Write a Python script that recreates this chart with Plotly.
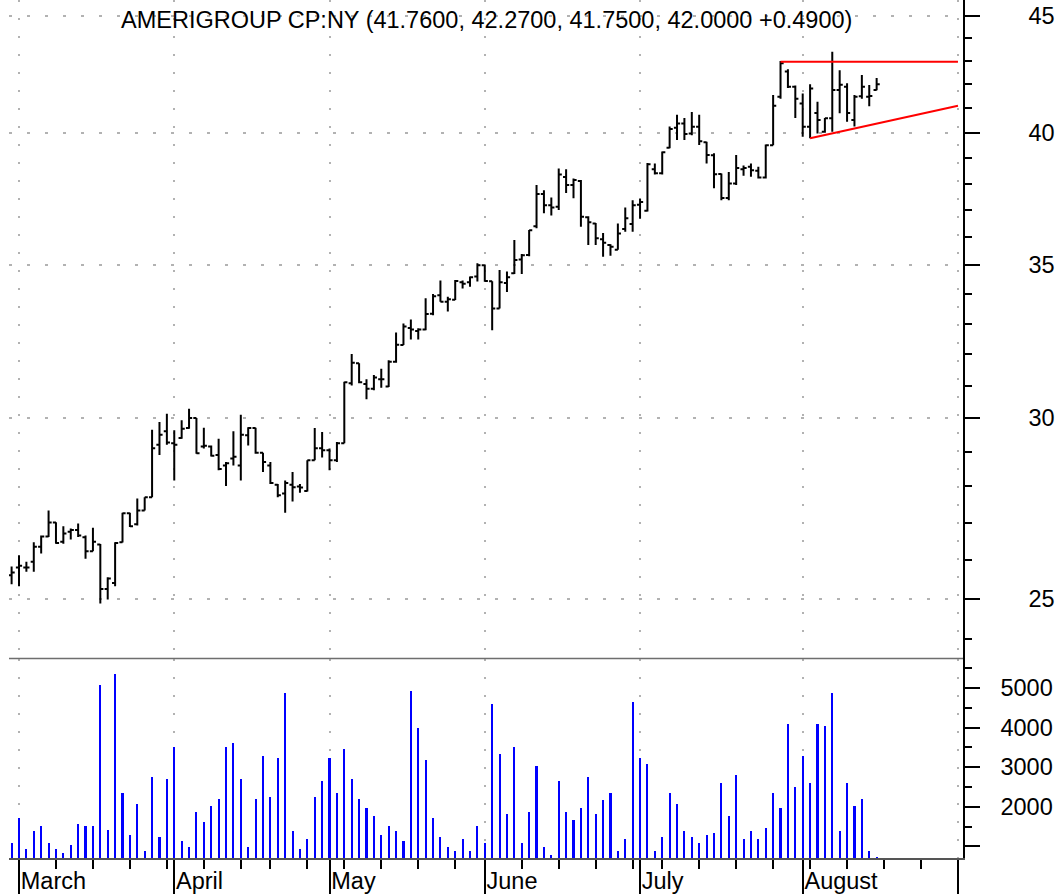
import math
import pandas as pd
import plotly.graph_objects as go

# ---------------- data ----------------
holidays = ["2003-04-18", "2003-05-26", "2003-07-04", "2003-09-01"]
dates = [d.strftime("%Y-%m-%d") for d in pd.bdate_range("2003-02-28", "2003-08-15")
         if d.strftime("%Y-%m-%d") not in holidays]

opens = [25.60, 25.80, 25.80, 25.95, 26.35, 26.62, 27.00, 26.48, 26.75, 26.80,
         26.60, 26.23, 26.41, 25.25, 25.40, 26.47, 27.25, 26.95, 27.33, 27.70,
         29.20, 29.60, 29.25, 29.40, 29.70, 30.00, 29.15, 29.15, 28.90, 28.60,
         28.80, 28.60, 29.48, 29.70, 28.97, 28.60, 28.05, 27.80, 28.05, 28.00,
         27.87, 28.75, 29.10, 29.04, 28.75, 29.25, 31.07, 31.70, 31.05, 30.90,
         31.20, 30.97, 31.75, 32.29, 32.85, 32.75, 32.80, 33.33, 33.95, 33.73,
         33.80, 34.40, 34.40, 34.60, 35.00, 34.44, 33.50, 34.38, 34.72, 35.20,
         35.36, 36.40, 37.60, 37.18, 37.12, 38.25, 37.95, 38.10, 36.73, 36.50,
         35.93, 35.72, 35.55, 36.30, 36.48, 37.20, 36.97, 38.55, 38.40, 39.40,
         40.20, 40.38, 39.97, 40.24, 39.62, 39.10, 38.37, 37.45, 38.00, 38.55,
         38.65, 38.50, 38.24, 39.50, 41.48, 42.55, 41.90, 41.20, 40.24, 40.80,
         40.04, 40.59, 41.76, 41.90, 40.52, 41.50, 41.48, 41.76]
highs = [25.83, 26.12, 25.95, 26.47, 26.65, 27.33, 27.01, 26.90, 26.84, 26.97,
         26.65, 26.86, 26.42, 25.55, 26.47, 27.27, 27.27, 27.66, 27.70, 29.65,
         29.88, 30.13, 29.63, 29.93, 30.28, 30.00, 29.71, 29.18, 29.38, 28.70,
         29.60, 30.10, 29.72, 29.71, 28.97, 28.70, 28.07, 28.17, 28.41, 28.07,
         28.75, 29.70, 29.58, 29.09, 29.28, 31.12, 32.00, 31.70, 31.20, 31.33,
         31.53, 31.80, 32.70, 33.00, 33.13, 32.84, 33.85, 34.00, 34.46, 33.90,
         34.48, 34.46, 34.60, 35.07, 35.02, 34.44, 34.83, 34.78, 35.90, 35.40,
         36.26, 37.95, 37.75, 37.47, 38.58, 38.55, 38.20, 38.14, 36.77, 36.52,
         36.15, 35.75, 36.50, 37.10, 37.37, 37.42, 38.80, 38.78, 39.25, 40.25,
         40.73, 40.60, 40.85, 40.73, 39.64, 39.18, 38.39, 38.45, 39.11, 38.70,
         38.78, 38.65, 39.53, 41.55, 43.00, 42.65, 41.95, 41.62, 42.00, 41.27,
         40.60, 43.40, 42.60, 42.05, 41.55, 42.40, 41.97, 42.27]
lows = [25.37, 25.32, 25.69, 25.69, 26.17, 26.61, 26.43, 26.43, 26.54, 26.61,
        26.03, 26.23, 24.88, 24.98, 25.32, 26.46, 26.88, 26.92, 27.33, 27.70,
        28.90, 29.20, 28.17, 29.38, 29.68, 28.94, 29.09, 28.86, 28.46, 28.01,
        28.60, 28.17, 29.18, 28.94, 28.41, 28.07, 27.70, 27.27, 27.58, 27.82,
        27.86, 28.75, 28.83, 28.46, 28.70, 29.25, 31.00, 31.07, 30.57, 30.85,
        30.93, 30.95, 31.72, 32.29, 32.47, 32.47, 32.78, 33.28, 33.73, 33.40,
        33.79, 34.19, 34.25, 34.43, 34.42, 32.78, 33.50, 34.07, 34.69, 34.69,
        35.32, 36.33, 36.88, 36.80, 37.00, 37.64, 37.44, 36.38, 35.72, 35.72,
        35.30, 35.33, 35.55, 36.20, 36.20, 36.68, 36.95, 38.35, 38.35, 39.38,
        39.71, 39.71, 39.90, 39.51, 38.78, 37.82, 37.37, 37.37, 37.95, 38.30,
        38.26, 38.20, 38.20, 39.50, 41.40, 41.85, 40.60, 39.84, 39.78, 39.97,
        40.00, 40.04, 40.79, 40.45, 40.25, 41.40, 41.08, 41.75]
closes = [25.67, 25.85, 25.80, 26.35, 26.62, 27.00, 26.45, 26.70, 26.80, 26.65,
          26.23, 26.48, 25.25, 25.52, 26.45, 27.25, 26.90, 27.33, 27.70, 29.10,
          29.50, 29.27, 29.20, 29.68, 30.00, 28.95, 29.17, 28.88, 28.50, 28.66,
          28.85, 29.50, 29.70, 28.97, 28.70, 28.10, 27.75, 28.10, 27.98, 27.97,
          28.75, 29.10, 29.04, 28.75, 29.25, 31.10, 31.72, 31.10, 30.90, 31.25,
          31.20, 31.75, 32.30, 32.90, 32.80, 32.80, 33.32, 33.92, 33.73, 33.82,
          34.45, 34.35, 34.58, 35.00, 34.45, 33.50, 34.40, 34.58, 35.18, 35.35,
          36.25, 37.60, 37.18, 37.10, 38.35, 37.95, 38.14, 36.75, 36.55, 35.96,
          35.80, 35.66, 36.14, 36.70, 37.18, 37.30, 38.75, 38.40, 39.22, 40.15,
          40.38, 39.95, 40.24, 39.66, 39.11, 38.36, 37.45, 38.00, 38.60, 38.60,
          38.52, 38.24, 39.50, 41.10, 42.90, 41.90, 41.40, 40.24, 41.83, 40.52,
          40.59, 41.76, 41.98, 40.80, 41.48, 41.90, 41.51, 42.00]
volumes = [1080, 1710, 930, 1380, 1520, 1080, 930, 840, 1030, 1570,
           1520, 1520, 5080, 1420, 5360, 2350, 1280, 2060, 890, 2740,
           1230, 2690, 3520, 1130, 980, 1870, 1620, 2010, 2200, 3520,
           3610, 2690, 980, 2200, 3270, 2250, 3230, 4880, 1380, 930,
           1180, 2250, 2640, 3230, 2350, 3470, 2690, 2200, 1960, 1770,
           1280, 1520, 1380, 1130, 4930, 4000, 3180, 1710, 1230, 980,
           880, 1180, 880, 1520, 1080, 4590, 3320, 1820, 3520, 1080,
           1870, 3030, 980, 790, 2640, 1870, 1660, 1960, 2740, 1820,
           2180, 2350, 880, 1180, 4640, 3230, 3080, 880, 1230, 2350,
           2060, 1380, 1230, 1080, 1280, 1330, 2600, 1770, 2790, 1180,
           1380, 1180, 1470, 2350, 1960, 4100, 2500, 3270, 2600, 4100,
           4050, 4880, 1380, 2600, 2010, 2200, 890, 740]

# trend lines (resistance / rising support)
upper_x = ["2003-07-29", "2003-09-02"]
upper_y = [42.97, 42.97]
lower_x = ["2003-08-04", "2003-09-02"]
lower_y = [39.78, 41.10]

month_ticks = ["2003-03-03", "2003-04-01", "2003-05-01", "2003-06-02",
               "2003-07-01", "2003-08-01", "2003-09-02"]
month_labels = ["March", "April", "May", "June", "July", "August", ""]
week_ticks = ["2003-03-10", "2003-03-17", "2003-03-24", "2003-03-31",
              "2003-04-07", "2003-04-14", "2003-04-21", "2003-04-28",
              "2003-05-05", "2003-05-12", "2003-05-19", "2003-05-27",
              "2003-06-09", "2003-06-16", "2003-06-23", "2003-06-30",
              "2003-07-07", "2003-07-14", "2003-07-21", "2003-07-28",
              "2003-08-04", "2003-08-11", "2003-08-18", "2003-08-25"]

price_ticks = [25, 30, 35, 40, 45]
price_minor = [24, 26, 27, 28, 29, 31, 32, 33, 34, 36, 37, 38, 39, 41, 42, 43, 44]
vol_ticks = [1000, 2000, 3000, 4000, 5000]
vol_labels = ["", "2000", "3000", "4000", "5000"]
vol_minor = [1500, 2500, 3500, 4500, 5500]

# ---------------- figure ----------------
FONT = "Liberation Sans, Arial, sans-serif"
FS = 23.5
GRID = "#b2b2b2"
W, H = 1063, 894
ML, MR, MT, MB = 9, 100, 0, 36
plot_h = H - MT - MB
vol_top = (858 - 659) / plot_h
price_bot = (858 - 658.5) / plot_h

rb = [dict(bounds=["sat", "mon"]), dict(values=holidays)]
xrange_ = ["2003-02-27 15:33", "2003-09-02 16:20"]

fig = go.Figure()
fig.add_trace(go.Ohlc(
    x=dates, open=opens, high=highs, low=lows, close=closes,
    xaxis="x2", yaxis="y",
    increasing=dict(line=dict(color="black", width=2)),
    decreasing=dict(line=dict(color="black", width=2)),
    tickwidth=0.42, showlegend=False, hoverinfo="skip"))
fig.add_trace(go.Scatter(x=upper_x, y=upper_y, mode="lines", xaxis="x2", yaxis="y",
                         line=dict(color="#ff0000", width=2), showlegend=False, hoverinfo="skip"))
fig.add_trace(go.Scatter(x=lower_x, y=lower_y, mode="lines", xaxis="x2", yaxis="y",
                         line=dict(color="#ff0000", width=2), showlegend=False, hoverinfo="skip"))
fig.add_trace(go.Bar(
    x=dates, y=volumes, xaxis="x", yaxis="y2",
    marker=dict(color="#0000ff", line=dict(width=0)),
    width=2.1 / 7.394 * 86400000, showlegend=False, hoverinfo="skip"))

o, h, l, c = opens[-1], highs[-1], lows[-1], closes[-1]
chg = c - closes[-2]
title = f"AMERIGROUP CP:NY ({o:.4f}, {h:.4f}, {l:.4f}, {c:.4f} {chg:+.4f})"

fig.update_layout(
    width=W, height=H,
    margin=dict(l=ML, r=MR, t=MT, b=MB, pad=0, autoexpand=False),
    paper_bgcolor="white", plot_bgcolor="white",
    font=dict(family=FONT, size=FS, color="black"),
    bargap=0,
    xaxis=dict(
        type="date", domain=[0, 1], anchor="y2", range=xrange_, rangebreaks=rb,
        automargin=False,
        tickmode="array", tickvals=month_ticks, ticktext=month_labels,
        ticks="outside", ticklen=36, tickwidth=2, tickcolor="black",
        ticklabelposition="outside right", ticklabelstandoff=1,
        tickfont=dict(size=FS, family=FONT, color="black"),
        showgrid=True, gridcolor=GRID, griddash="2px,16px", gridwidth=1.5,
        showline=True, linecolor="#555555", linewidth=1.5,
        minor=dict(tickmode="array", tickvals=week_ticks, ticks="outside",
                   ticklen=9, tickwidth=2, tickcolor="black", showgrid=False),
        rangeslider=dict(visible=False), zeroline=False, fixedrange=True),
    xaxis2=dict(
        type="date", domain=[0, 1], anchor="y", matches="x", range=xrange_, rangebreaks=rb,
        automargin=False,
        tickmode="array", tickvals=month_ticks, showticklabels=False, ticks="",
        showgrid=True, gridcolor=GRID, griddash="2px,16px", gridwidth=1.5,
        showline=False, rangeslider=dict(visible=False), zeroline=False),
    yaxis=dict(
        type="log", domain=[price_bot, 1], anchor="x2", side="right",
        range=[math.log10(23.54), math.log10(45.73)], automargin=False,
        tickmode="array", tickvals=price_ticks, ticktext=[str(v) for v in price_ticks],
        ticks="outside", ticklen=15, tickwidth=2, tickcolor="black",
        ticklabelstandoff=44,
        showgrid=True, gridcolor=GRID, griddash="3px,15px", gridwidth=1.5,
        showline=True, linecolor="black", linewidth=1.5,
        minor=dict(tickmode="array", tickvals=price_minor, ticks="outside",
                   ticklen=7, tickwidth=2, tickcolor="black", showgrid=False),
        zeroline=False),
    yaxis2=dict(
        domain=[0, vol_top], anchor="x", side="right", range=[705, 5730],
        automargin=False,
        tickmode="array", tickvals=vol_ticks, ticktext=vol_labels,
        ticks="outside", ticklen=15, tickwidth=2, tickcolor="black",
        ticklabelstandoff=16,
        showgrid=False, showline=True, linecolor="black", linewidth=1.5,
        minor=dict(tickmode="array", tickvals=vol_minor, ticks="outside",
                   ticklen=7, tickwidth=2, tickcolor="black", showgrid=False),
        zeroline=False),
    shapes=[dict(type="line", xref="paper", yref="paper", x0=0, x1=1,
                 y0=vol_top + 0.0005, y1=vol_top + 0.0005,
                 line=dict(color="#6e6e6e", width=1.5))],
    annotations=[dict(text=title, xref="paper", yref="paper", x=0.5,
                      y=1 - 20 / plot_h, xanchor="center", yanchor="middle",
                      showarrow=False, font=dict(size=FS, family=FONT, color="black"))],
)

fig.write_html("out.html", config={"displayModeBar": False},
               post_script="document.body.style.margin='0';document.body.style.padding='0';")
